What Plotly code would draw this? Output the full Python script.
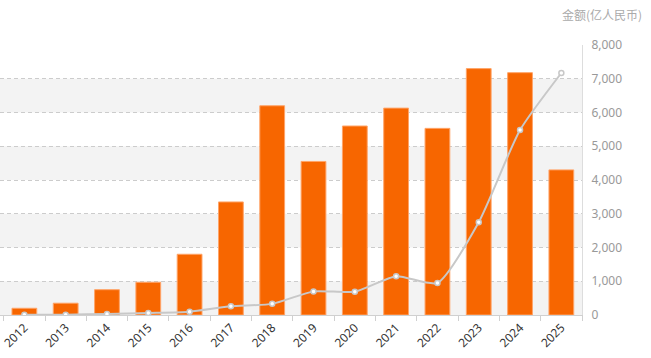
import plotly.graph_objects as go

years = ["2012", "2013", "2014", "2015", "2016", "2017", "2018",
         "2019", "2020", "2021", "2022", "2023", "2024", "2025"]
bar_values = [200, 350, 750, 970, 1800, 3350, 6200,
              4550, 5600, 6130, 5530, 7300, 7180, 4300]
line_values = [10, 10, 30, 60, 100, 260, 330,
               700, 690, 1150, 950, 2750, 5480, 7170]
y_ticks = [0, 1000, 2000, 3000, 4000, 5000, 6000, 7000, 8000]
y_title = "金额(亿人民币)"

FONT = "Noto Sans, DejaVu Sans, sans-serif"

fig = go.Figure()
fig.add_trace(go.Bar(
    x=years, y=bar_values, width=0.6,
    marker=dict(color="#f76600", line=dict(color="#ffa468", width=1)),
    hoverinfo="x+y",
))
fig.add_trace(go.Scatter(
    x=years, y=line_values, mode="lines+markers",
    line=dict(color="#c8c8c8", width=2, shape="spline", smoothing=0.6),
    marker=dict(symbol="circle", size=5, color="#ffffff",
                line=dict(color="#c8c8c8", width=1.5)),
))

shapes = []
for i in range(0, len(y_ticks) - 1, 2):
    shapes.append(dict(type="rect", xref="paper", yref="y", x0=0, x1=1,
                       y0=y_ticks[i], y1=y_ticks[i + 1],
                       fillcolor="#f3f3f3", line=dict(width=0), layer="below"))

fig.update_layout(
    width=651, height=358,
    margin=dict(l=0, r=69, t=45, b=43),
    paper_bgcolor="white", plot_bgcolor="white",
    showlegend=False,
    shapes=shapes,
    font=dict(family=FONT),
    xaxis=dict(
        type="category", range=[-0.59, 13.5],
        showgrid=False, showline=True, linecolor="#d0d0d0", linewidth=1,
        ticks="outside", tickson="boundaries", ticklen=5, tickcolor="#d0d0d0",
        tickangle=-45, tickfont=dict(size=12, color="#333333"),
        zeroline=False,
    ),
    yaxis=dict(
        side="right", range=[0, 8000], tickvals=y_ticks,
        tickformat=",d",
        showgrid=True, gridcolor="#cccccc", griddash="4px,3px", gridwidth=1,
        showline=True, linecolor="#dddddd", linewidth=1,
        ticks="", tickfont=dict(size=12, color="#999999"),
        zeroline=False, ticklabelstandoff=6,
    ),
    annotations=[dict(
        text=y_title, xref="paper", yref="paper", x=1.106, y=1.0,
        xanchor="right", yanchor="bottom", yshift=20, showarrow=False,
        font=dict(size=12, color="#aaaaaa", family="Noto Sans CJK SC"),
    )],
)

fig.write_html(
    "out.html",
    config={"displayModeBar": False},
    post_script="document.body.style.margin='0';document.body.style.padding='0';",
)
